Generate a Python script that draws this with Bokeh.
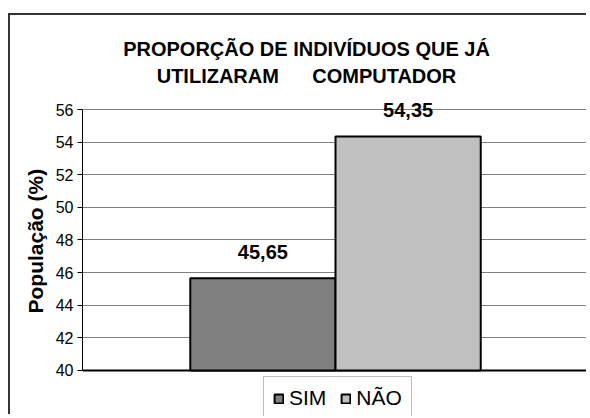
from bokeh.plotting import figure
from bokeh.models import (Range1d, FixedTicker, ColumnDataSource, LabelSet, Label, Title,
                          Legend, LegendItem, Grid)
from bokeh.core.properties import value
from bokeh.embed import file_html
from bokeh.resources import INLINE

categories = ["SIM", "NÃO"]
values = [45.65, 54.35]
value_labels = ["45,65", "54,35"]
colors = ["#808080", "#C0C0C0"]
y_ticks = [40, 42, 44, 46, 48, 50, 52, 54, 56]
title_lines = ["PROPORÇÃO DE INDIVÍDUOS QUE JÁ", "UTILIZARAM   COMPUTADOR"]
y_label = "População (%)"

FONT = "Liberation Sans"
bar_w = 0.287
xs = [0.5 + (i - 0.5) * bar_w for i in range(len(categories))]

src = ColumnDataSource(dict(x=xs, top=values, cat=categories, color=colors, lab=value_labels))

# frame spans the whole canvas height; axis/grid limited to 40..56
p = figure(width=578, height=401, x_range=Range1d(0, 1), y_range=Range1d(37.18, 61.7625),
           output_backend="svg", toolbar_location=None,
           min_border_left=72, min_border_right=0, min_border_top=0, min_border_bottom=0,
           styles={"border-left": "2px solid #333333", "border-top": "2px solid #333333",
                   "margin-left": "8px", "margin-top": "13px"})
p.outline_line_color = None
p.background_fill_color = "white"
p.border_fill_color = "white"

p.xaxis.visible = False
p.xgrid.visible = False

p.yaxis.ticker = FixedTicker(ticks=y_ticks)
p.yaxis.bounds = (y_ticks[0], y_ticks[-1])
p.yaxis.major_label_text_font = FONT
p.yaxis.major_label_text_font_size = "16px"
p.yaxis.major_label_text_color = "black"
p.yaxis.major_label_standoff = 4
p.yaxis.major_tick_out = 5
p.yaxis.major_tick_in = 0
p.yaxis.minor_tick_line_color = None
p.yaxis.axis_line_color = "black"
p.yaxis.major_tick_line_color = "black"
p.ygrid.grid_line_color = "#808080"
p.ygrid.grid_line_width = 1

# y-axis title, placed on the left side
p.add_layout(Title(text=y_label, align="left", offset=103, standoff=12,
                   text_font=FONT, text_font_style="bold", text_font_size="21px",
                   text_color="black"), "left")

# baseline (category axis line) at 40
base = Grid(dimension=1, ticker=FixedTicker(ticks=[y_ticks[0]]),
            grid_line_color="black", grid_line_width=2)
p.add_layout(base)

r = p.vbar(x="x", top="top", bottom=y_ticks[0], width=bar_w, source=src,
           fill_color="color", line_color="black", line_width=2)

labels = LabelSet(x="x", y="top", text="lab", source=src, y_offset=19,
                  text_align="center", text_baseline="alphabetic",
                  text_font=value(FONT), text_font_style="bold", text_font_size="20px",
                  text_color="black")
p.add_layout(labels)

nb = "\u00a0\u00a0"
for txt, yy in zip(title_lines, [368, 341]):
    p.add_layout(Label(x=224, y=yy, x_units="screen", y_units="screen",
                       text=txt.replace(" " * 3, nb * 3), text_align="center",
                       text_baseline="alphabetic", text_font=FONT,
                       text_font_style="bold", text_font_size="20px",
                       text_color="black"))

items = [LegendItem(label=c, renderers=[r], index=i) for i, c in enumerate(categories)]
legend = Legend(items=items, orientation="horizontal", location=(181, -4),
                glyph_width=11, glyph_height=11, label_standoff=5, spacing=14,
                padding=9, margin=0, label_height=20,
                label_text_font=FONT, label_text_font_size="21px", label_text_color="black",
                border_line_color="#808080", border_line_width=1,
                background_fill_color="white", background_fill_alpha=1)
p.add_layout(legend, "center")

open("out.html", "w").write(file_html(p, INLINE))
